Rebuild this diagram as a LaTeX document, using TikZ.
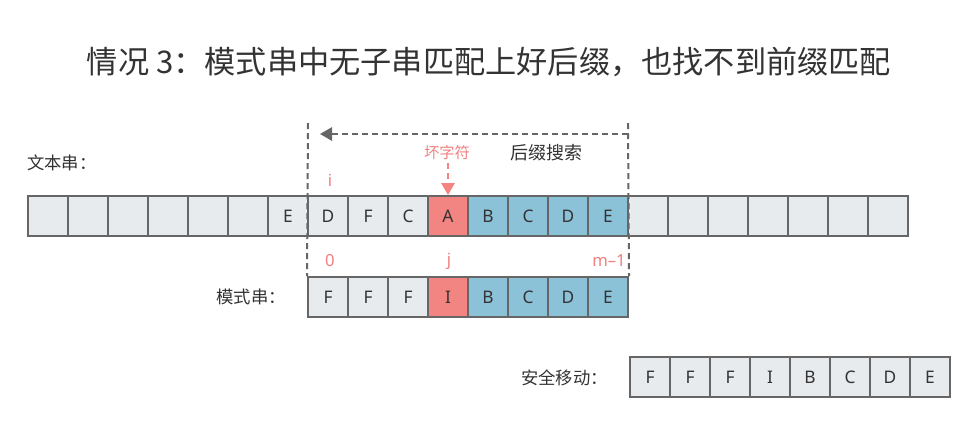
\documentclass[tikz,border=0pt]{standalone}
\usepackage{fontspec}
\setmainfont{Noto Sans CJK SC}
\newfontfamily\latinf{Noto Sans}
\usetikzlibrary{arrows.meta}
\definecolor{cellgray}{HTML}{E8EBEE}
\definecolor{edgegray}{HTML}{666666}
\definecolor{badred}{HTML}{F28482}
\definecolor{sufblue}{HTML}{8CC2D8}
\definecolor{redtext}{HTML}{F08080}
\definecolor{darktext}{HTML}{333333}
\tikzset{
  cell/.style={draw=edgegray, line width=1.5pt, fill=cellgray, minimum width=30pt, minimum height=30pt, inner sep=0pt, text=darktext, font=\latinf\fontsize{13}{13}\selectfont},
  redcell/.style={cell, fill=badred},
  bluecell/.style={cell, fill=sufblue},
  lab/.style={text=darktext, font=\fontsize{13}{13}\selectfont, inner sep=0pt},
  redlab/.style={text=redtext, font=\latinf\fontsize{12.5}{12.5}\selectfont, inner sep=0pt},
  vline/.style={draw=edgegray, line width=1.5pt, dash pattern=on 4.5pt off 3pt},
}
\begin{document}
\begin{tikzpicture}[x=0.75pt, y=-0.75pt]
\useasboundingbox (0,0) rectangle (980,437);
% title
\node[text=darktext, font=\fontsize{23.4}{23.4}\selectfont, inner sep=0pt] (title) at (489,62) {情况 3：模式串中无子串匹配上好后缀，也找不到前缀匹配};
% text string row
\foreach \k/\c/\s in {0//cell,1//cell,2//cell,3//cell,4//cell,5//cell,6/E/cell,7/D/cell,8/F/cell,9/C/cell,10/A/redcell,11/B/bluecell,12/C/bluecell,13/D/bluecell,14/E/bluecell,15//cell,16//cell,17//cell,18//cell,19//cell,20//cell,21//cell}
  \node[\s] (t\k) at ({48+40*\k},216) {\c};
% pattern row
\foreach \k/\c/\s in {0/F/cell,1/F/cell,2/F/cell,3/I/redcell,4/B/bluecell,5/C/bluecell,6/D/bluecell,7/E/bluecell}
  \node[\s] (p\k) at ({328+40*\k},297) {\c};
% safe shift row
\foreach \k/\c in {0/F,1/F,2/F,3/I,4/B,5/C,6/D,7/E}
  \node[cell] (s\k) at ({650+40*\k},377) {\c};
% labels
\node[lab, anchor=west] (ltext) at (27,163) {文本串：};
\node[lab, anchor=east] (lpat) at (286,297) {模式串：};
\node[lab, anchor=east] (lsafe) at (608,378) {安全移动：};
\node[text=darktext, font=\fontsize{13.5}{13.5}\selectfont, inner sep=0pt] (suf) at (546,153) {后缀搜索};
\node[text=redtext, font=\fontsize{11.5}{11.5}\selectfont, inner sep=0pt] (bad) at (447,153) {坏字符};
\node[redlab] (li) at (330,180) {i};
\node[redlab] (l0) at (330,261) {0};
\node[redlab] (lj) at (449,261) {j};
\node[redlab, anchor=east] (lm) at (626,261) {m–1};
% dashed boundaries
\coordinate (ltop) at (308,123);
\coordinate (rtop) at (628,123);
\coordinate (arrs) at (628,134);
\coordinate (arre) at (320,134);
\draw[vline] (ltop) -- (p0.north west);
\draw[vline] (rtop) -- (p7.north east);
\draw[vline, -{Triangle[length=9pt, width=10pt]}] (arrs) -- (arre);
\coordinate (rarr) at (448,163);
\draw[draw=badred, line width=1.5pt, dash pattern=on 4.5pt off 3pt, -{Triangle[length=9pt, width=10pt]}] (rarr) -- (t10.north);
\end{tikzpicture}
\end{document}
